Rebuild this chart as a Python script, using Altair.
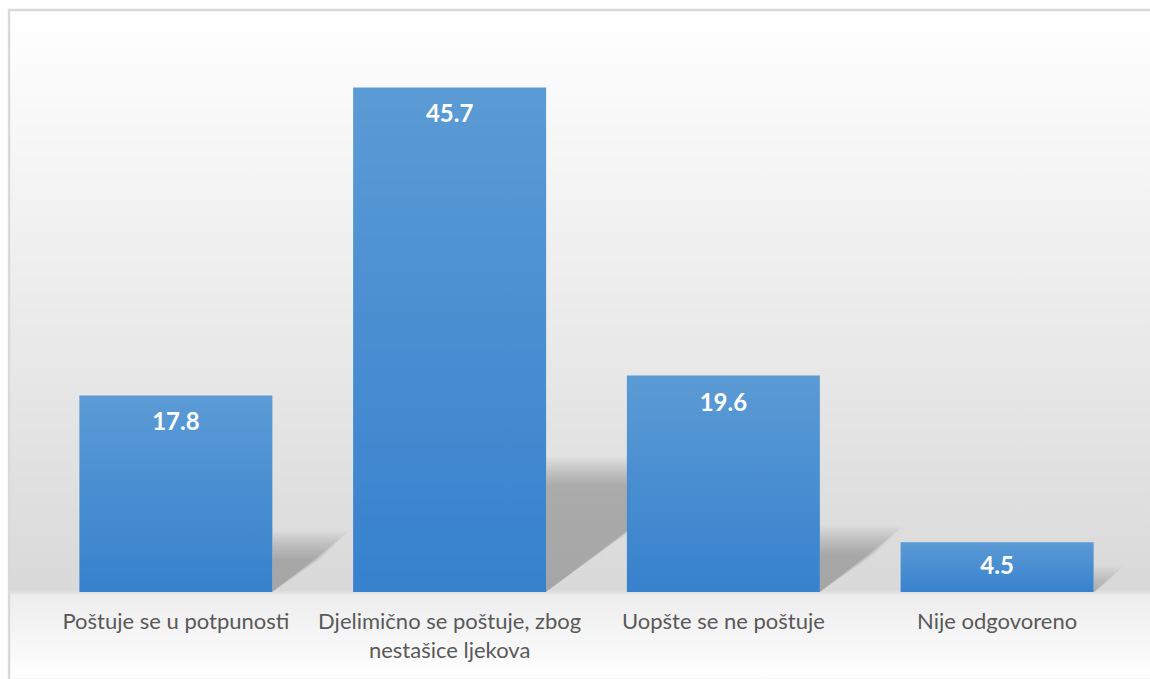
import altair as alt
import pandas as pd

# Survey answers and their shares (%)
CATEGORIES = [
    "Poštuje se u potpunosti",
    "Djelimično se poštuje, zbog nestašice ljekova",
    "Uopšte se ne poštuje",
    "Nije odgovoreno",
]
TICK_LABELS = [
    "Poštuje se u potpunosti",
    "Djelimično se poštuje, zbog\nnestašice ljekova",
    "Uopšte se ne poštuje",
    "Nije odgovoreno",
]
VALUES = [17.8, 45.7, 19.6, 4.5]

# Layout
PLOT_W, PLOT_H = 1095, 552
Y_MAX = 50
BAR_HALF = 0.3525              # half bar width in category units
PX_X = PLOT_W / len(CATEGORIES)
PX_Y = PLOT_H / Y_MAX
SHADOW_RISE = 0.24             # shadow height as a share of bar height
SHADOW_RUN = 0.013             # shadow reach to the right per unit of value
SHADOW_SPREAD = list(range(-14, 16, 2))  # blur steps, in pixels

bars = pd.DataFrame({
    "cat": CATEGORIES,
    "label": TICK_LABELS,
    "value": VALUES,
    "idx": list(range(len(CATEGORIES))),
})
bars["x0"] = bars["idx"] - BAR_HALF
bars["x1"] = bars["idx"] + BAR_HALF
bars["label_y"] = [max(v - 28 / PX_Y, v / 2) for v in VALUES]

# Soft perspective shadows: many stacked translucent triangles
rows = []
for i, v in enumerate(VALUES):
    xr = i + BAR_HALF
    for k, e in enumerate(SHADOW_SPREAD):
        top = max(SHADOW_RISE * v + e / PX_Y, 0.12)
        run = max(SHADOW_RUN * v + e / PX_X, 0.012)
        grp = f"{i}-{k}"
        rows.append({"grp": grp, "x": xr, "top": top, "bottom": 0.0})
        rows.append({"grp": grp, "x": xr + run, "top": top, "bottom": top})
shadows = pd.DataFrame(rows)

x_scale = alt.Scale(domain=[-0.5, len(CATEGORIES) - 0.5], nice=False, zero=False)
y_scale = alt.Scale(domain=[0, Y_MAX], nice=False, zero=True)

bg_fill = alt.Gradient(
    gradient="linear", x1=0, x2=0, y1=0, y2=1,
    stops=[
        alt.GradientStop(color="#ffffff", offset=0),
        alt.GradientStop(color="#d9d9d9", offset=0.866),
        alt.GradientStop(color="#ededed", offset=0.874),
        alt.GradientStop(color="#ffffff", offset=1),
    ],
)
background = alt.Chart(pd.DataFrame({"a": [0]})).mark_rect(
    fill=bg_fill, stroke="#d9d9d9", strokeWidth=2.5
).encode(
    x=alt.value(-30), x2=alt.value(PLOT_W + 18),
    y=alt.value(-30), y2=alt.value(PLOT_H + 88),
)

shadow = alt.Chart(shadows).mark_area(
    color="black", opacity=0.015, interpolate="linear"
).encode(
    x=alt.X("x:Q", scale=x_scale, axis=None),
    y=alt.Y("top:Q", scale=y_scale, axis=None),
    y2="bottom:Q",
    detail="grp:N",
)

bar_fill = alt.Gradient(
    gradient="linear", x1=0, x2=0, y1=0, y2=1,
    stops=[
        alt.GradientStop(color="#5B9BD5", offset=0),
        alt.GradientStop(color="#3781CD", offset=1),
    ],
)
bar = alt.Chart(bars).mark_rect(fill=bar_fill).encode(
    x=alt.X("x0:Q", scale=x_scale, axis=None),
    x2="x1:Q",
    y=alt.Y("value:Q", scale=y_scale, axis=None),
    y2=alt.datum(0),
)

values = alt.Chart(bars).mark_text(
    font="Lato", fontSize=24, fontWeight="bold", color="white", baseline="middle"
).encode(
    x=alt.X("idx:Q", scale=x_scale, axis=None),
    y=alt.Y("label_y:Q", scale=y_scale, axis=None),
    text=alt.Text("value:Q", format=".1f"),
)

ticks = alt.Chart(bars).mark_text(
    font="Lato", fontSize=22, color="#595959", baseline="top",
    lineBreak="\n", lineHeight=29,
).encode(
    x=alt.X("idx:Q", scale=x_scale, axis=None),
    y=alt.value(PLOT_H + 20),
    text="label:N",
)

chart = alt.layer(background, shadow, bar, values, ticks).properties(
    width=PLOT_W,
    height=PLOT_H,
    padding={"left": 39, "top": 40, "right": 16, "bottom": 87},
    autosize=alt.AutoSizeParams(type="none"),
    background="white",
).configure_view(stroke=None)

chart.save("out.html", embed_options={"renderer": "svg", "actions": False})
